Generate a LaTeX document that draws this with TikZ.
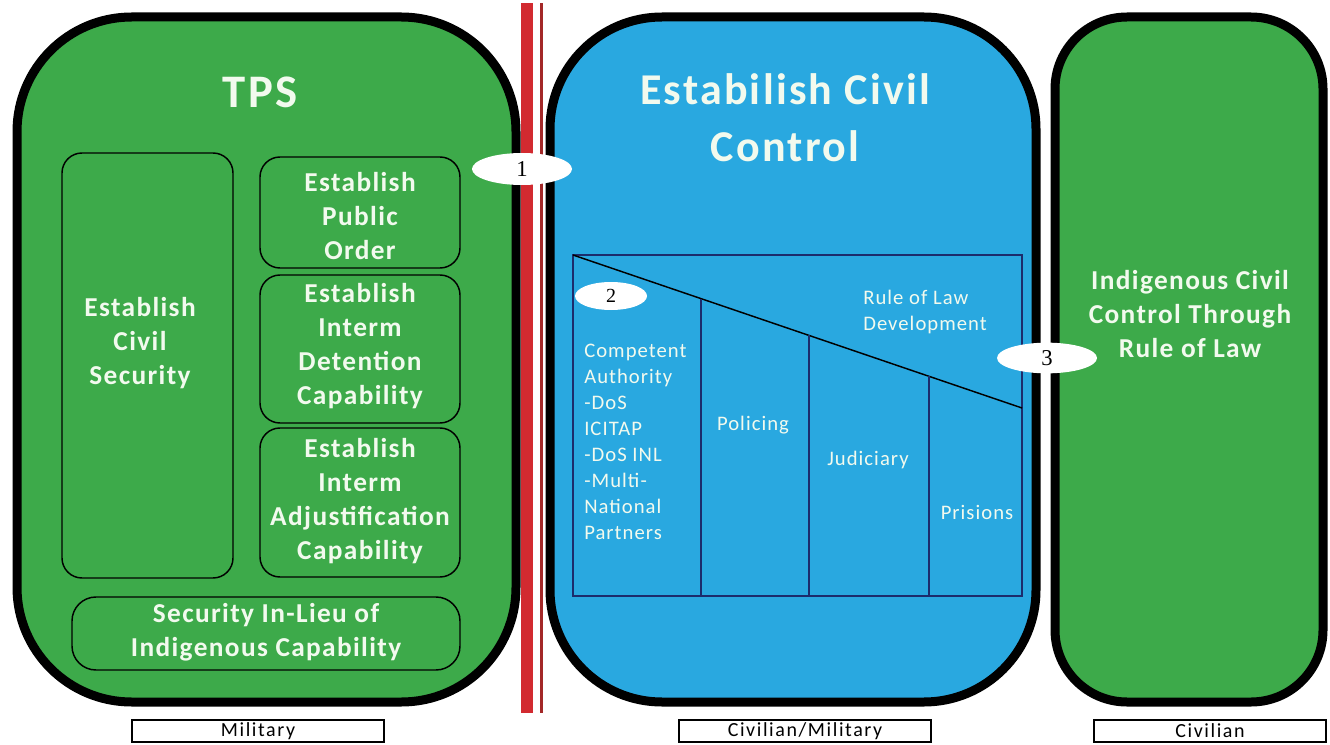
\documentclass[tikz,border=0pt]{standalone}
\usepackage{fontspec}
\setmainfont{Carlito}[LetterSpace=5]
\newfontfamily\labelfont{Carlito}[LetterSpace=8]
\newfontfamily\numfont{Liberation Serif}
\usetikzlibrary{shapes.geometric,calc}
\definecolor{tgreen}{HTML}{3DAA4A}
\definecolor{tblue}{HTML}{29A8E0}
\definecolor{ttext}{HTML}{F2FAEE}
\definecolor{tnavy}{HTML}{1C2C6C}
\definecolor{tred}{HTML}{D22A30}
\definecolor{tdred}{HTML}{A32828}
\begin{document}
\begin{tikzpicture}[x=0.75pt,y=-0.75pt,
  bigbox/.style={draw=black, line width=6.75pt, rounded corners=#1, inner sep=0pt},
  innerbox/.style={draw=black, line width=1.1pt, rounded corners=15pt, inner sep=0pt},
  title/.style={text=ttext, font=\bfseries\fontsize{33}{43}\selectfont, align=center},
  boxtext/.style={text=ttext, font=\bfseries\fontsize{20.5}{25.5}\selectfont, align=center, inner sep=0pt},
  smalltext/.style={text=ttext, font=\fontsize{15.5}{19.5}\selectfont, inner sep=0pt},
  numoval/.style={ellipse, fill=white, inner sep=0pt, font=\numfont\fontsize{17}{17}\selectfont},
  labelbox/.style={draw=black, line width=0.8pt, fill=white, inner sep=0pt, minimum width=189pt, minimum height=16.5pt, font=\labelfont\fontsize{15}{15}\selectfont},
  navyline/.style={draw=tnavy, line width=1.1pt}
]
\useasboundingbox (0,0) rectangle (1330,745);

% big boxes
\node[bigbox=86pt, fill=tgreen, minimum width=374.25pt, minimum height=513.75pt] (tps) at (266.5,359.5) {};
\node[bigbox=84pt, fill=tblue, minimum width=364.5pt, minimum height=513.75pt] (ecc) at (793,359.5) {};
\node[bigbox=54pt, fill=tgreen, minimum width=201pt, minimum height=513.75pt] (icc) at (1189,359.5) {};

% red separator
\fill[tred] (521,3) rectangle (533,713);
\fill[tdred] (540,3) rectangle (543,713);

% titles
\node[title, font=\bfseries\fontsize{35}{43}\selectfont] (tpst) at (260,92) {TPS};
\node[title] (ecct) at (785,118) {Estabilish Civil\\Control};
\node[boxtext] (icct) at (1190,314) {Indigenous Civil\\Control Through\\Rule of Law};

% TPS inner boxes
\node[innerbox, minimum width=128.25pt, minimum height=318.75pt] (civsec) at (147.5,365.5) {};
\node[boxtext] (civsect) at (140,343) {Establish\\Civil\\Security};
\node[innerbox, minimum width=150pt, minimum height=83.25pt] (pubord) at (360,212.5) {};
\node[boxtext] (pubordt) at (360,216.5) {Establish\\Public\\Order};
\node[innerbox, minimum width=150pt, minimum height=111pt] (detent) at (360,349) {};
\node[boxtext] (detentt) at (360,346) {Establish\\Interm\\Detention\\Capability};
\node[innerbox, minimum width=150pt, minimum height=111.75pt] (adjud) at (360,502.5) {};
\node[boxtext] (adjudt) at (360,501) {Establish\\Interm\\Adjustification\\Capability};
\node[innerbox, rounded corners=18pt, minimum width=291pt, minimum height=54.75pt] (lieu) at (266,633.5) {};
\node[boxtext] (lieut) at (266,632) {Security In-Lieu of\\Indigenous Capability};

% rule of law chart
\coordinate (rtl) at (573,255);
\coordinate (rtr) at (1022,255);
\coordinate (rbl) at (573,596);
\coordinate (rbr) at (1022,596);
\coordinate (rdiag) at (1022,408);
\draw[navyline] (rtl) -- (rtr) -- (rbr) -- (rbl) -- cycle;
\draw[black, line width=1.1pt] (rtl) -- (rdiag);
\coordinate (d1) at ($(rtl)!{128/449}!(rdiag)$);
\coordinate (d2) at ($(rtl)!{236/449}!(rdiag)$);
\coordinate (d3) at ($(rtl)!{356/449}!(rdiag)$);
\draw[navyline] (d1) -- (d1 |- rbl);
\draw[navyline] (d2) -- (d2 |- rbl);
\draw[navyline] (d3) -- (d3 |- rbl);

\node[smalltext, anchor=west, align=left] (compt) at (584,442) {Competent\\Authority\\-DoS\\ICITAP\\-DoS INL\\-Multi-\\National\\Partners};
\node[smalltext] (polt) at (753,425) {Policing};
\node[smalltext] (judt) at (868,460) {Judiciary};
\node[smalltext] (prit) at (977,512) {Prisions};
\node[smalltext, anchor=west, align=left] (rolt) at (863,312) {Rule of Law\\Development};

% numbered ovals
\node[numoval, minimum width=75pt, minimum height=24pt] (n1) at (522,169) {1};
\node[numoval, minimum width=54pt, minimum height=21pt, font=\numfont\fontsize{15}{15}\selectfont] (n2) at (611,296) {2};
\node[numoval, minimum width=75pt, minimum height=23pt] (n3) at (1047,358) {3};

% bottom labels
\node[labelbox] (mil) at (258,731) {Military};
\node[labelbox] (civmil) at (805,731) {Civilian/Military};
\node[labelbox, minimum width=174pt] (civ) at (1210,731) {Civilian};
\end{tikzpicture}
\end{document}
